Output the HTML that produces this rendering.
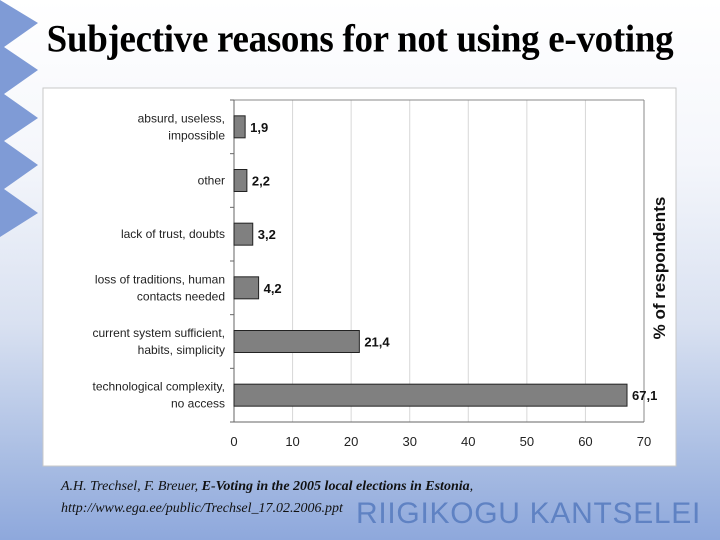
<!DOCTYPE html>
<html><head><meta charset="utf-8"><style>
html,body{margin:0;padding:0}
body{width:720px;height:540px;position:relative;overflow:hidden;font-family:"Liberation Sans",sans-serif;
background:linear-gradient(to bottom,#ffffff 0%,#f4f6fb 30%,#d9e1f1 60%,#a9bde3 85%,#8ea8dc 100%);}
#title{position:absolute;left:0;top:18px;width:720px;text-align:center;font-family:"Liberation Serif",serif;font-weight:bold;font-size:37px;color:#000;letter-spacing:-0.3px;transform:scaleY(1.05)}
#cite{position:absolute;left:61px;top:476px;font-family:"Liberation Serif",serif;font-style:italic;font-size:14px;color:#111;line-height:22px}
#brand{position:absolute;left:356px;top:497px;font-size:30px;color:#5f82c3;letter-spacing:0.7px}
</style></head><body>
<svg width="45" height="240" style="position:absolute;left:0;top:0">
<polygon points="0,0 38,23 4,47 38,70 4,94 38,118 4,141 38,165 4,189 38,213 0,237" fill="#7f9bd6"/>
</svg>
<div id="title">Subjective reasons for not using e-voting</div>
<svg id="chart" width="720" height="540" style="position:absolute;left:0;top:0"></svg>
<div id="cite">A.H. Trechsel, F. Breuer, <b>E-Voting in the 2005 local elections in Estonia</b>,<br>http://www.ega.ee/public/Trechsel_17.02.2006.ppt</div>
<div id="brand">RIIGIKOGU KANTSELEI</div>
<script>
const categories=[["absurd, useless,","impossible"],["other"],["lack of trust, doubts"],["loss of traditions, human","contacts needed"],["current system sufficient,","habits, simplicity"],["technological complexity,","no access"]];
const values=[1.9,2.2,3.2,4.2,21.4,67.1];
const valueLabels=["1,9","2,2","3,2","4,2","21,4","67,1"];
const ticks=[0,10,20,30,40,50,60,70];
const NS="http://www.w3.org/2000/svg";
const svg=document.getElementById('chart');
const X0=234,X1=644,Y0=100,Y1=422,MAX=70;
const x=v=>X0+(v/MAX)*(X1-X0);
const band=(Y1-Y0)/categories.length;
const y=i=>Y0+band*(i+0.5);
function mk(t,a){const e=document.createElementNS(NS,t);for(const k in a)e.setAttribute(k,a[k]);svg.appendChild(e);return e;}
const box=mk('rect',{x:43,y:88,width:633,height:378,fill:'#fff',stroke:'#c8c8c8'});


ticks.forEach(t=>{
 if(t>0){const g=mk('line',{x1:x(t),x2:x(t),y1:Y0,y2:Y1,stroke:t===MAX?'#888':'#d8d8d8'});
 
 }
 const tl=mk('text',{x:x(t),y:446,'text-anchor':'middle','font-size':13,fill:'#222'});
 tl.textContent=t;
 
 
});
mk('line',{x1:X0,x2:X1,y1:Y0,y2:Y0,stroke:'#888'});
const xa=mk('line',{x1:X0,x2:X1,y1:Y1,y2:Y1,stroke:'#666'});


const ya=mk('line',{x1:X0,x2:X0,y1:Y0,y2:Y1,stroke:'#666'});


for(let i=0;i<=categories.length;i++){mk('line',{x1:X0-4,x2:X0,y1:Y0+band*i,y2:Y0+band*i,stroke:'#666'});}
categories.forEach((c,i)=>{
 const cy=y(i);
 const b=mk('rect',{x:X0,y:cy-11,width:x(values[i])-X0,height:22,fill:'#808080',stroke:'#222','stroke-width':1});
 
 
 const vl=mk('text',{x:x(values[i])+5,y:cy+5,'font-size':13,'font-weight':'bold',fill:'#111'});
 vl.textContent=valueLabels[i];
 
 
 const lines=c;const start=cy-(lines.length-1)*8.5+4;
 lines.forEach((ln,j)=>{
  const t=mk('text',{x:X0-9,y:start+j*17,'text-anchor':'end','font-size':12,fill:'#222'});
  t.textContent=ln;
  
  
 });
});
const yt=mk('text',{x:0,y:0,'text-anchor':'middle','font-size':17,'font-weight':'bold',fill:'#111',transform:'translate(665,268) rotate(-90)'});
yt.textContent='% of respondents';


</script>
</body></html>
